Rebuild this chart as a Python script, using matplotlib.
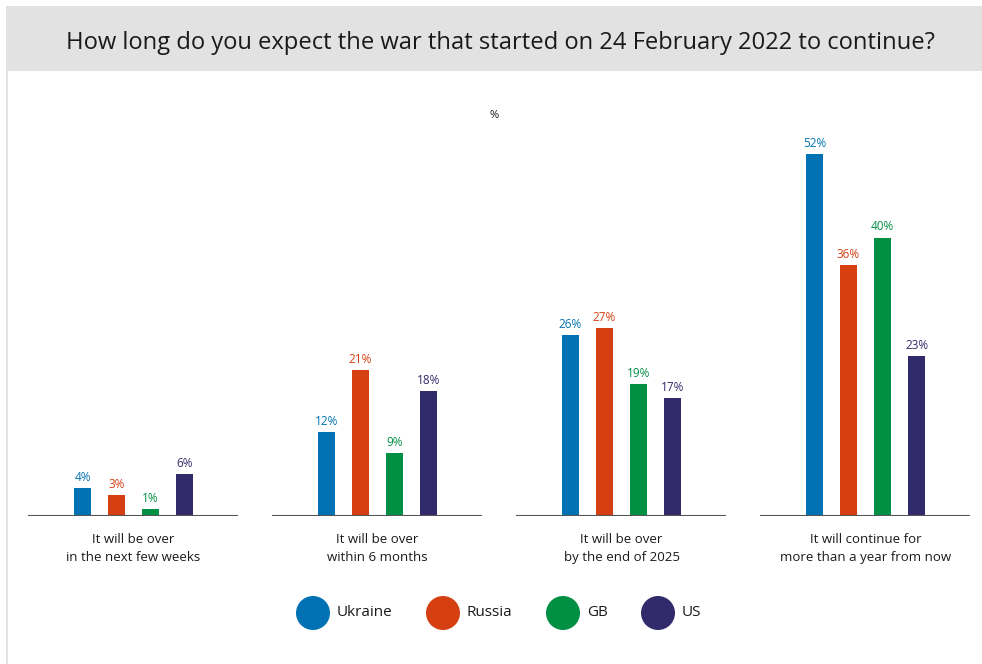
import matplotlib.pyplot as plt
from matplotlib.patches import Rectangle, Circle

# survey answers and results (%) by country
categories = ['It will be over\nin the next few weeks',
              'It will be over\nwithin 6 months',
              'It will be over\nby the end of 2025',
              'It will continue for\nmore than a year from now']
countries = ['Ukraine', 'Russia', 'GB', 'US']
ukraine = [4, 12, 26, 52]
russia = [3, 21, 27, 36]
gb = [1, 9, 19, 40]
us = [6, 18, 17, 23]

colors = ['#0072b3', '#d63f11', '#008f43', '#312a6b']
title = 'How long do you expect the war that started on 24 February 2022 to continue?'

W, H = 982, 664
fig = plt.figure(figsize=(W / 100, H / 100), dpi=100)
fig.patch.set_facecolor('white')

# grey title band and thin left border
fig.add_artist(Rectangle((6 / W, 1 - 71 / H), 1 - 6 / W, 65 / H,
                         transform=fig.transFigure, color='#e2e2e2', lw=0))
fig.add_artist(Rectangle((6 / W, 0), 2 / W, 1 - 71 / H,
                         transform=fig.transFigure, color='#e2e2e2', lw=0))
fig.text(500 / W, 1 - 43 / H, title, ha='center', va='center',
         fontsize=17.1, family='Open Sans', color='#1a1a1a')

# one axes, one unit per answer group (244 px)
base_px = 516
px_per_pct = 6.96
ax = fig.add_axes([0, (H - base_px) / H, 1, 60 * px_per_pct / H])
xmin = -133.5 / 244
ax.set_xlim(xmin, xmin + W / 244)
ax.set_ylim(0, 60)
ax.axis('off')

series = [ukraine, russia, gb, us]
step = 34 / 244
bw = 17 / 244
for j, (vals, c) in enumerate(zip(series, colors)):
    xs = [i + (j - 1.5) * step for i in range(len(categories))]
    ax.bar(xs, vals, width=bw, color=c, zorder=2)
    for x, v in zip(xs, vals):
        ax.text(x, v + 0.6, f'{v}%', ha='center', va='bottom',
                fontsize=8.5, color=c, family='Open Sans')

for i, cat in enumerate(categories):
    ax.plot([i - 105.5 / 244, i + 104.5 / 244], [0, 0], color='#555555',
            lw=1.5, zorder=3, solid_capstyle='butt')
    ax.text(i, -2.5, cat, ha='center', va='top', fontsize=9.5,
            color='#1a1a1a', family='Open Sans', linespacing=1.45)

fig.text(494 / W, 1 - 115 / H, '%', ha='center', va='center',
         fontsize=8, color='#1a1a1a', family='Open Sans')

# legend with round swatches (inches, so they stay round)
legend_x = [313, 443, 563, 658]
ly = 613
for name, c, cx in zip(countries, colors, legend_x):
    fig.add_artist(Circle((cx / 100, (H - ly) / 100), 0.17,
                          transform=fig.dpi_scale_trans, color=c, lw=0))
    fig.text((cx + 24) / W, 1 - ly / H, name, ha='left', va='center',
             fontsize=11, color='#1a1a1a', family='Open Sans')

fig.savefig('out.png', dpi=100)
